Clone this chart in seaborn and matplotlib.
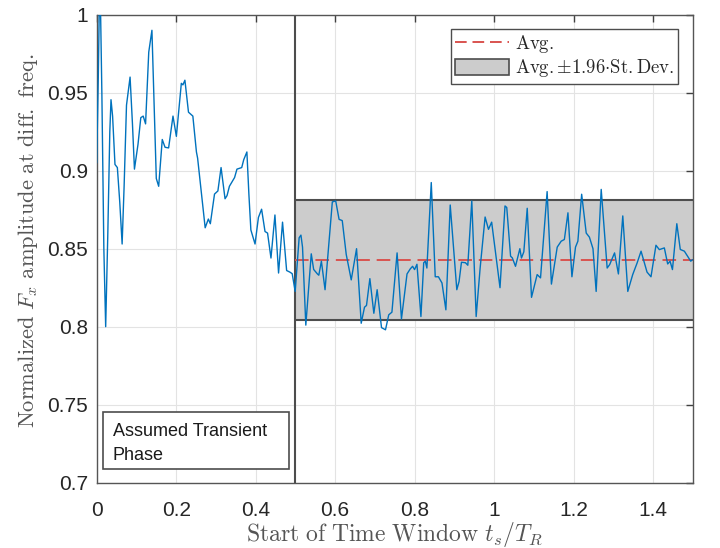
import numpy as np
import pandas as pd
import matplotlib
matplotlib.use("Agg")
import matplotlib.pyplot as plt
import seaborn as sns
from matplotlib.lines import Line2D
from matplotlib.patches import Patch, Rectangle

# ---- data ----
t_start = [0.000, 0.004, 0.008, 0.013, 0.018, 0.0226, 0.028, 0.033, 0.036, 0.040,
           0.046, 0.052, 0.058, 0.064, 0.069, 0.075, 0.084, 0.090, 0.095, 0.104,
           0.111, 0.117, 0.123, 0.131, 0.139, 0.146, 0.150, 0.156, 0.165, 0.172,
           0.181, 0.192, 0.2005, 0.213, 0.217, 0.222, 0.231, 0.242, 0.251, 0.254,
           0.273, 0.281, 0.286, 0.2965, 0.305, 0.313, 0.323, 0.328, 0.334, 0.347,
           0.353, 0.365, 0.370, 0.378, 0.383, 0.388, 0.3985, 0.407, 0.415, 0.4236,
           0.430, 0.4386, 0.4486, 0.4577, 0.4677, 0.478, 0.486, 0.492, 0.4995, 0.5095,
           0.514, 0.518, 0.5263, 0.540, 0.546, 0.5555, 0.559, 0.5655, 0.5747, 0.584,
           0.593, 0.6015, 0.610, 0.618, 0.628, 0.6406, 0.654, 0.6657, 0.674, 0.679,
           0.6875, 0.6975, 0.7058, 0.7168, 0.7268, 0.735, 0.743, 0.756, 0.767, 0.781,
           0.789, 0.795, 0.800, 0.806, 0.816, 0.823, 0.827, 0.831, 0.842, 0.852,
           0.860, 0.869, 0.8788, 0.8897, 0.9063, 0.912, 0.918, 0.928, 0.934, 0.944,
           0.955, 0.965, 0.9775, 0.986, 0.994, 1.002, 1.015, 1.0276, 1.032, 1.0416,
           1.046, 1.054, 1.065, 1.069, 1.075, 1.0835, 1.0943, 1.1085, 1.117, 1.1336,
           1.1444, 1.159, 1.169, 1.177, 1.186, 1.196, 1.205, 1.211, 1.2205, 1.232,
           1.240, 1.249, 1.257, 1.2697, 1.2847, 1.291, 1.3033, 1.313, 1.324, 1.3366,
           1.349, 1.360, 1.370, 1.385, 1.395, 1.4075, 1.416, 1.4286, 1.437, 1.443,
           1.449, 1.460, 1.4687, 1.479, 1.4887, 1.495, 1.500]
amplitude = [0.905, 0.960, 1.030, 0.950, 0.850, 0.800, 0.860, 0.925, 0.9455, 0.935,
             0.904, 0.902, 0.880, 0.853, 0.890, 0.942, 0.960, 0.930, 0.901, 0.917,
             0.934, 0.935, 0.930, 0.976, 0.990, 0.930, 0.895, 0.890, 0.920, 0.915,
             0.9146, 0.935, 0.922, 0.956, 0.955, 0.958, 0.9375, 0.935, 0.912, 0.908,
             0.8634, 0.869, 0.866, 0.885, 0.887, 0.902, 0.882, 0.884, 0.890, 0.8956,
             0.901, 0.902, 0.907, 0.912, 0.885, 0.862, 0.853, 0.870, 0.8753, 0.861,
             0.860, 0.844, 0.8716, 0.8344, 0.8670, 0.836, 0.835, 0.834, 0.8226, 0.857,
             0.8587, 0.851, 0.801, 0.8467, 0.8367, 0.8338, 0.833, 0.842, 0.8237, 0.852,
             0.880, 0.8806, 0.8688, 0.868, 0.8463, 0.830, 0.850, 0.8022, 0.8125, 0.8136,
             0.8308, 0.8086, 0.8237, 0.7994, 0.798, 0.8076, 0.8093, 0.8473, 0.805, 0.8338,
             0.8370, 0.8387, 0.8366, 0.8400, 0.8065, 0.8410, 0.8420, 0.8376, 0.8924, 0.832,
             0.832, 0.828, 0.8108, 0.878, 0.8237, 0.829, 0.8413, 0.8410, 0.8394, 0.8806,
             0.8065, 0.8376, 0.8703, 0.8624, 0.867, 0.851, 0.825, 0.8774, 0.8764, 0.8452,
             0.8441, 0.8387, 0.850, 0.844, 0.848, 0.8759, 0.8188, 0.8334, 0.8313, 0.8866,
             0.8273, 0.851, 0.8548, 0.8559, 0.873, 0.832, 0.851, 0.8548, 0.8849, 0.860,
             0.8574, 0.850, 0.8226, 0.888, 0.8376, 0.8398, 0.8473, 0.8338, 0.871, 0.8226,
             0.8334, 0.8408, 0.8484, 0.835, 0.832, 0.8522, 0.8494, 0.8505, 0.8402, 0.842,
             0.8366, 0.866, 0.8495, 0.8484, 0.8445, 0.842, 0.843]

transient_end = 0.5
stat_range = [0.5, 1.5]
avg_value = 0.8426
band_half = 0.0385

x_ticks = [0, 0.2, 0.4, 0.6, 0.8, 1, 1.2, 1.4]
x_tick_labels = ["0", "0.2", "0.4", "0.6", "0.8", "1", "1.2", "1.4"]
y_ticks = [0.7, 0.75, 0.8, 0.85, 0.9, 0.95, 1.0]
y_tick_labels = ["0.7", "0.75", "0.8", "0.85", "0.9", "0.95", "1"]

df = pd.DataFrame({"t": t_start, "amp": amplitude})

# ---- styling ----
sns.set_theme(style="white")
plt.rcParams["font.family"] = ["Liberation Sans", "DejaVu Sans"]
plt.rcParams["mathtext.fontset"] = "cm"

fig = plt.figure(figsize=(7.2, 5.48), dpi=100)
ax = fig.add_axes([0.1343, 0.1192, 0.8278, 0.8540])

# band
ax.fill_between(stat_range, [avg_value - band_half] * 2, [avg_value + band_half] * 2,
                facecolor="#cccccc", edgecolor="none", zorder=1)
ax.hlines([avg_value - band_half, avg_value + band_half], stat_range[0], stat_range[1],
          colors="#4d4d4d", linewidth=1.5, zorder=2)
ax.axvline(transient_end, color="#4d4d4d", linewidth=1.5, zorder=2)
ax.hlines(avg_value, stat_range[0], stat_range[1], colors="#d9534f",
          linestyles=(0, (7, 3.5)), linewidth=1.4, zorder=3)

sns.lineplot(data=df, x="t", y="amp", ax=ax, color="#0072BD", linewidth=1.0,
             zorder=4, legend=False)

ax.set_xlim(0, 1.5)
ax.set_ylim(0.7, 1.0)
ax.set_xticks(x_ticks)
ax.set_xticklabels(x_tick_labels)
ax.set_yticks(y_ticks)
ax.set_yticklabels(y_tick_labels)
ax.grid(True, color="#e3e3e3", linewidth=0.8, zorder=0)
ax.set_axisbelow(True)
ax.tick_params(axis="both", direction="in", length=5, width=1, color="#404040",
               labelsize=15, labelcolor="#262626", top=True, right=True)
ax.tick_params(axis="x", pad=13)
ax.tick_params(axis="y", pad=6)
for s in ax.spines.values():
    s.set_color("#555555")
    s.set_linewidth(1.0)
    s.set_visible(True)

ax.set_xlabel(r"$\mathrm{Start\ of\ Time\ Window}\ t_s/T_R$", fontsize=17,
              color="#555555")
ax.xaxis.set_label_coords(0.5, -0.08)
ax.set_ylabel(r"$\mathrm{Normalized}\ F_x\ \mathrm{amplitude\ at\ diff.\ freq.}$",
              fontsize=16.2, color="#555555")
ax.yaxis.set_label_coords(-0.095, 0.518)

# legend
handles = [Line2D([0], [0], color="#d9534f", linestyle=(0, (6, 3)), linewidth=1.4),
           Patch(facecolor="#cccccc", edgecolor="#4d4d4d", linewidth=1.2)]
labels = [r"$\mathrm{Avg.}$", r"$\mathrm{Avg.}{\pm}1.96{\cdot}\mathrm{St.Dev.}$"]
leg = ax.legend(handles, labels, loc="upper right", bbox_to_anchor=(0.9753, 0.9694),
                borderaxespad=0, fontsize=13.5, handlelength=2.9, handleheight=0.9,
                handletextpad=0.3, labelspacing=0.12, borderpad=0.22,
                fancybox=False, framealpha=1, edgecolor="#4d4d4d")
leg.get_frame().set_linewidth(1.0)

# transient phase box
ax.add_patch(Rectangle((0.0106, 0.0293), 0.3121, 0.1217, transform=ax.transAxes,
                       facecolor="white", edgecolor="#4d4d4d", linewidth=1.2, zorder=5))
ax.text(0.0268, 0.0998, "Assumed Transient", transform=ax.transAxes, fontsize=13,
        va="baseline", ha="left", color="#1a1a1a", zorder=6)
ax.text(0.0268, 0.0485, "Phase", transform=ax.transAxes, fontsize=13,
        va="baseline", ha="left", color="#1a1a1a", zorder=6)

fig.savefig("out.png", dpi=100, facecolor="white")
